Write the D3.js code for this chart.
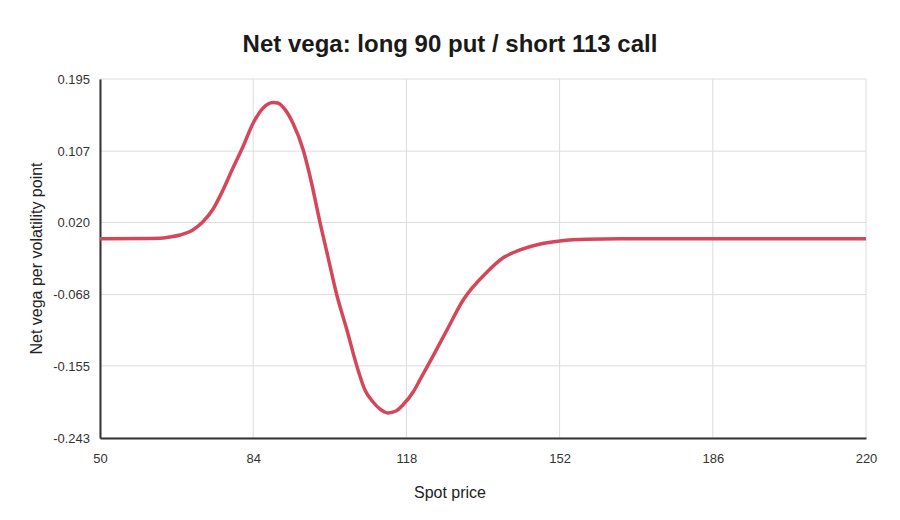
<!DOCTYPE html>
<html>
<head>
<meta charset="utf-8">
<script src="https://cdn.jsdelivr.net/npm/d3@7"></script>
<style>
  body { margin: 0; background: #fff; }
  text { font-family: "Liberation Sans", Arial, sans-serif; }
</style>
</head>
<body>
<div id="chart"></div>
<script>

// spot prices
var spot = [50, 61.1, 63.3, 65.5, 67.8, 70.6, 72.9, 75.1, 77.3, 79.5, 81.7, 84.0, 86.2, 87.3,
    88.4, 89.5, 90.6, 92.8, 95.1, 96.8, 98.8, 100.6, 102.5, 104.8, 107.0, 108.8, 110.6,
    112.1, 113.9, 115.7, 117.2, 119.5, 121.0, 123.9, 127.0, 130.6, 135.9, 139.4, 143.2,
    147.7, 152.1, 158.1, 165.4, 220];

// net vega at each spot
var netVega = [0.0002, 0.0004, 0.0006, 0.0022, 0.0047, 0.0108, 0.0211, 0.0364, 0.0596, 0.0864,
    0.1120, 0.1413, 0.1596, 0.1645, 0.1663, 0.1657, 0.1608, 0.1413, 0.1084, 0.0718, 0.0205,
    -0.0222, -0.0673, -0.1112, -0.1552, -0.1844, -0.1991, -0.2076, -0.2125, -0.2101,
    -0.2028, -0.1869, -0.1722, -0.1430, -0.1112, -0.0746, -0.0405, -0.0234, -0.0136,
    -0.0063, -0.0026, -0.0005, 0.0000, 0.0001];

var xTicks = [50, 84, 118, 152, 186, 220];
var yTicks = [-0.243, -0.155, -0.068, 0.020, 0.107, 0.195];
var yTickLabels = ["-0.243", "-0.155", "-0.068", "0.020", "0.107", "0.195"];

var W = 900, H = 520;
var margin = {top: 79, right: 34, bottom: 82, left: 100};
var width = W - margin.left - margin.right,
    height = H - margin.top - margin.bottom;

var svg = d3.select("#chart").append("svg")
    .attr("width", W)
    .attr("height", H);

var g = svg.append("g")
    .attr("transform", "translate(" + margin.left + "," + margin.top + ")");

var x = d3.scaleLinear().domain([50, 220]).range([0, width]);
var y = d3.scaleLinear().domain([-0.243, 0.195]).range([height, 0]);

// grid
g.append("g").selectAll("line")
    .data(xTicks)
    .enter().append("line")
    .attr("x1", function (d) { return x(d); })
    .attr("x2", function (d) { return x(d); })
    .attr("y1", 0).attr("y2", height)
    .attr("stroke", "#dcdcdc").attr("stroke-width", 1);

g.append("g").selectAll("line")
    .data(yTicks)
    .enter().append("line")
    .attr("x1", 0).attr("x2", width)
    .attr("y1", function (d) { return y(d); })
    .attr("y2", function (d) { return y(d); })
    .attr("stroke", "#dcdcdc").attr("stroke-width", 1);

// axes
var xAxis = d3.axisBottom(x).tickValues(xTicks).tickSize(0).tickPadding(16)
    .tickFormat(d3.format("d"));
var yAxis = d3.axisLeft(y).tickValues(yTicks).tickSize(0).tickPadding(10)
    .tickFormat(function (d, i) { return yTickLabels[i]; });

var gx = g.append("g")
    .attr("transform", "translate(0," + height + ")")
    .call(xAxis);
var gy = g.append("g").call(yAxis);

[gx, gy].forEach(function (a) {
    a.select(".domain").attr("stroke", "#333").attr("stroke-width", 2);
    a.selectAll("text").attr("fill", "#333").style("font-size", "13px")
        .style("font-family", "'Liberation Sans', Arial, sans-serif");
});

// line
var line = d3.line()
    .x(function (d, i) { return x(spot[i]); })
    .y(function (d) { return y(d); })
    .curve(d3.curveMonotoneX);

g.append("path")
    .datum(netVega)
    .attr("fill", "none")
    .attr("stroke", "#d4475b")
    .attr("stroke-width", 3.5)
    .attr("stroke-linejoin", "round")
    .attr("d", line);

// titles
svg.append("text")
    .attr("x", W / 2).attr("y", 52)
    .attr("text-anchor", "middle")
    .style("font-size", "24px").style("font-weight", "bold")
    .attr("fill", "#1a1a1a")
    .text("Net vega: long 90 put / short 113 call");

svg.append("text")
    .attr("x", W / 2).attr("y", 498)
    .attr("text-anchor", "middle")
    .style("font-size", "16px")
    .attr("fill", "#222")
    .text("Spot price");

svg.append("text")
    .attr("transform", "translate(42," + (margin.top + height / 2) + ") rotate(-90)")
    .attr("text-anchor", "middle")
    .style("font-size", "16px")
    .attr("fill", "#222")
    .text("Net vega per volatility point");

</script>
</body>
</html>
